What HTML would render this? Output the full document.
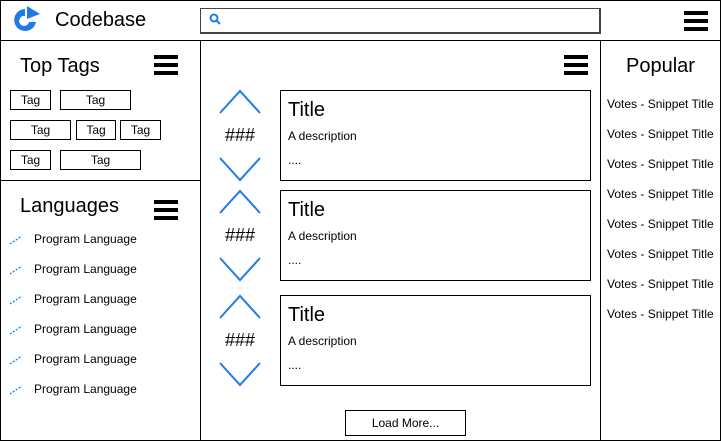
<!DOCTYPE html>
<html><head><meta charset="utf-8"><style>
body{margin:0;width:721px;height:441px;position:relative;font-family:"Liberation Sans",Arial,sans-serif;background:#fff;overflow:hidden;color:#000}
div,span{position:absolute;box-sizing:border-box}
.b{border:1px solid #000}
.tag{border:1px solid #000;font-size:12px;text-align:center;line-height:18px;height:20px}
.ham{width:24px;height:20px}
.ham i{position:absolute;left:0;width:24px;height:4px;background:#000}
.lang{left:34px;font-size:12px}
.pop{left:607px;font-size:12px}
.card{left:280px;width:311px;height:91px;border:1px solid #000}
.card .t{left:7px;top:8px;font-size:20px}
.card .d{left:7px;top:38px;font-size:12px}
.card .e{left:7px;top:62px;font-size:12px}
.num{left:222px;font-size:18px;width:36px;text-align:center}
</style></head><body>
<div class="b" style="left:0;top:0;width:721px;height:441px"></div>
<div style="left:0;top:40px;width:721px;height:1px;background:#000"></div>
<div style="left:200px;top:40px;width:1px;height:401px;background:#000"></div>
<div style="left:600px;top:40px;width:1px;height:401px;background:#000"></div>
<div style="left:0;top:180px;width:200px;height:1px;background:#000"></div>

<svg style="position:absolute;left:9px;top:5px" width="32" height="30" viewBox="0 0 32 30">
<path d="M16 4 A11 11 0 1 0 27 17 L20 17 A5 5 0 1 1 16 11 Z" fill="#1e7be8"/>
<path d="M18 1 L31 9 L18 14 Z" fill="#1e7be8"/>
</svg>
<span style="left:55px;top:9px;font-size:20px">Codebase</span>
<div class="b" style="left:200px;top:8px;width:401px;height:26px;border-width:1px 2px 2px 1px;border-color:#444"></div>
<svg style="position:absolute;left:209px;top:13px" width="12" height="12"><circle cx="5" cy="5" r="3.5" fill="none" stroke="#1e7be8" stroke-width="2"/><line x1="7.5" y1="7.5" x2="11" y2="11" stroke="#1e7be8" stroke-width="2"/></svg>
<div class="ham" style="left:684px;top:11px"><i style="top:0"></i><i style="top:8px"></i><i style="top:16px"></i></div>

<span style="left:20px;top:55px;font-size:20px">Top Tags</span>
<div class="ham" style="left:154px;top:55px"><i style="top:0"></i><i style="top:8px"></i><i style="top:16px"></i></div>
<div class="tag" style="left:10px;top:90px;width:41px">Tag</div>
<div class="tag" style="left:60px;top:90px;width:71px">Tag</div>
<div class="tag" style="left:10px;top:120px;width:61px">Tag</div>
<div class="tag" style="left:76px;top:120px;width:40px">Tag</div>
<div class="tag" style="left:120px;top:120px;width:41px">Tag</div>
<div class="tag" style="left:10px;top:150px;width:41px">Tag</div>
<div class="tag" style="left:60px;top:150px;width:81px">Tag</div>

<span style="left:20px;top:195px;font-size:20px">Languages</span>
<div class="ham" style="left:154px;top:200px"><i style="top:0"></i><i style="top:8px"></i><i style="top:16px"></i></div>
<div id="langs"></div>

<div class="ham" style="left:564px;top:55px"><i style="top:0"></i><i style="top:8px"></i><i style="top:16px"></i></div>
<div id="cards"></div>
<div class="b" style="left:345px;top:410px;width:121px;height:26px;font-size:12px;text-align:center;line-height:24px">Load More...</div>

<span style="left:626px;top:55px;font-size:20px">Popular</span>
<div id="pop"></div>

<script>
const langItems=["Program Language","Program Language","Program Language","Program Language","Program Language","Program Language"];
const popItems=["Votes - Snippet Title","Votes - Snippet Title","Votes - Snippet Title","Votes - Snippet Title","Votes - Snippet Title","Votes - Snippet Title","Votes - Snippet Title","Votes - Snippet Title"];
const cardTops=[90,190,295];
langItems.forEach((t,i)=>{
  const y=232+i*30;
  const s=document.createElement('span');s.className='lang';s.style.top=y+'px';s.textContent=t;
  
  
  document.body.appendChild(s);
  const ic=document.createElementNS('http://www.w3.org/2000/svg','svg');
  ic.setAttribute('width','14');ic.setAttribute('height','10');
  ic.style.cssText='position:absolute;left:9px;top:'+(y+3)+'px';
  ic.innerHTML='<path d="M1 9 L13 1" stroke="#1e7be8" stroke-width="1.3" stroke-dasharray="2,1.5"/>';
  
  
  document.body.appendChild(ic);
});
popItems.forEach((t,i)=>{
  const s=document.createElement('span');s.className='pop';s.style.top=(97+i*30)+'px';s.textContent=t;
  
  
  document.body.appendChild(s);
});
cardTops.forEach(y=>{
  const c=document.createElement('div');c.className='card';c.style.top=y+'px';
  c.innerHTML='<span class="t">Title</span><span class="d">A description</span><span class="e">....</span>';
  
  
  document.body.appendChild(c);
  const up=document.createElementNS('http://www.w3.org/2000/svg','svg');
  up.setAttribute('width','44');up.setAttribute('height','26');
  up.style.cssText='position:absolute;left:218px;top:'+(y-1)+'px';
  up.innerHTML='<polyline points="2,24 22,2 42,24" fill="none" stroke="#1e7be8" stroke-width="2"/>';
  
  
  document.body.appendChild(up);
  const dn=document.createElementNS('http://www.w3.org/2000/svg','svg');
  dn.setAttribute('width','44');dn.setAttribute('height','26');
  dn.style.cssText='position:absolute;left:218px;top:'+(y+66)+'px';
  dn.innerHTML='<polyline points="2,2 22,24 42,2" fill="none" stroke="#1e7be8" stroke-width="2"/>';
  
  
  document.body.appendChild(dn);
  const n=document.createElement('span');n.className='num';n.style.top=(y+35)+'px';n.textContent='###';
  
  
  document.body.appendChild(n);
});
</script>
</body></html>
